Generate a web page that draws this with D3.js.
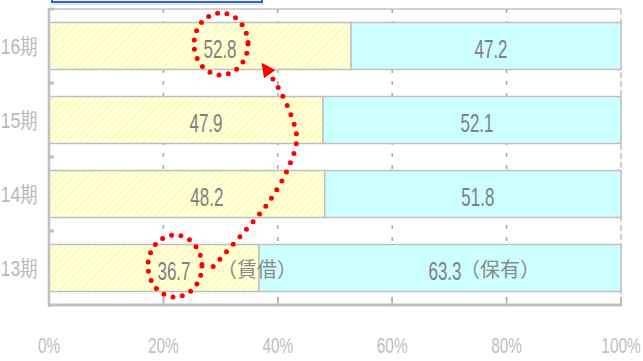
<html>
<body style="margin:0;background:#fff">
<svg width="643" height="361"></svg>
</body>
<style>
  .num { font-family: "Liberation Sans Narrow", "Liberation Sans", Arial, sans-serif; }
  .cjk { font-family: "Noto Sans CJK JP", sans-serif; }
</style>
<script src="https://d3js.org/d3.v7.min.js"></script>
<script>
// data
const categories = ["16期", "15期", "14期", "13期"];
const rentValues = [52.8, 47.9, 48.2, 36.7];   // 賃借
const ownValues  = [47.2, 52.1, 51.8, 63.3];   // 保有
const xTicks = [0, 20, 40, 60, 80, 100];
const seriesNames = ["賃借", "保有"];
// dotted arrow from 13期 label up to 16期 label: [percent, row] (row 0 = 16期 ... 3 = 13期)
const arrowPoints = [[28.7, 2.98], [33.9, 2.53], [38.5, 2.10], [42.1, 1.60], [43.3, 1.25], [42.3, 0.93], [40.0, 0.55], [38.3, 0.35]];

var svg = d3.select("svg");
var margin = {top: 9, right: 22, bottom: 56, left: 49},
    width = 643 - margin.left - margin.right,
    height = 361 - margin.top - margin.bottom;

var defs = svg.append("defs");
var pat = defs.append("pattern")
    .attr("id", "hatch")
    .attr("width", 5).attr("height", 5)
    .attr("patternUnits", "userSpaceOnUse")
    .attr("patternTransform", "rotate(45)");
pat.append("rect").attr("width", 5).attr("height", 5).attr("fill", "#ffffea");
pat.append("rect").attr("width", 2).attr("height", 5).attr("fill", "#ffffa8");

defs.append("marker")
    .attr("id", "head")
    .attr("viewBox", "0 0 10 10")
    .attr("refX", 2).attr("refY", 5)
    .attr("markerUnits", "userSpaceOnUse")
    .attr("markerWidth", 16).attr("markerHeight", 14)
    .attr("orient", "auto")
  .append("path")
    .attr("d", "M0,0L10,5L0,10z")
    .attr("fill", "#ff0000");

// legend box cut off at the top
svg.append("rect")
    .attr("x", 52).attr("y", -20).attr("width", 210).attr("height", 22)
    .attr("fill", "#fff").attr("stroke", "#2d63e6").attr("stroke-width", 2);
svg.append("line")
    .attr("x1", 52).attr("x2", 264).attr("y1", 4).attr("y2", 4)
    .attr("stroke", "#c8c8c8").attr("stroke-width", 1);

var g = svg.append("g")
    .attr("transform", "translate(" + margin.left + "," + margin.top + ")");

var x = d3.scaleLinear().domain([0, 100]).range([0, width]);
var y = d3.scaleBand()
    .domain(categories)
    .range([0, height])
    .paddingInner(0.365)
    .paddingOuter(0.1825);
var row = d3.scaleLinear()
    .domain([0, 3])
    .range([y(categories[0]) + y.bandwidth() / 2, y(categories[3]) + y.bandwidth() / 2]);

// squeezed text helper (the original text is narrow)
function narrowText(parent, px, py, str, size, sx, color, anchor, cls) {
  return parent.append("text")
    .attr("class", cls || "num")
    .attr("transform", "translate(" + px + "," + py + ") scale(" + sx + ",1)")
    .attr("text-anchor", anchor || "middle")
    .attr("font-size", size)
    .attr("fill", color)
    .text(str);
}

// top frame + right border
g.append("line")
    .attr("x1", 0).attr("x2", width).attr("y1", 0).attr("y2", 0)
    .attr("stroke", "#c4c4c4").attr("stroke-width", 1.5);
g.append("line")
    .attr("x1", width).attr("x2", width).attr("y1", 0).attr("y2", height)
    .attr("stroke", "#c4c4c4").attr("stroke-width", 1.5)
    .attr("stroke-dasharray", "6,3");

// dashed grid
g.selectAll(".grid")
  .data(xTicks.slice(1, -1))
  .enter().append("line")
    .attr("class", "grid")
    .attr("x1", d => x(d)).attr("x2", d => x(d))
    .attr("y1", 0).attr("y2", height)
    .attr("stroke", "#a8a8a8").attr("stroke-width", 1.5)
    .attr("stroke-dasharray", "4,8");

// bars
var bars = g.selectAll(".row")
  .data(categories)
  .enter().append("g")
    .attr("class", "row");

bars.append("rect")
    .attr("x", x(0))
    .attr("y", d => y(d))
    .attr("width", (d, i) => x(rentValues[i]) - x(0))
    .attr("height", y.bandwidth())
    .attr("fill", "url(#hatch)")
    .attr("stroke", "#c0c0c0").attr("stroke-width", 1.5);

bars.append("rect")
    .attr("x", (d, i) => x(rentValues[i]))
    .attr("y", d => y(d))
    .attr("width", (d, i) => x(rentValues[i] + ownValues[i]) - x(rentValues[i]))
    .attr("height", y.bandwidth())
    .attr("fill", "#ccffff")
    .attr("stroke", "#c0c0c0").attr("stroke-width", 1.5);

// axes
g.append("line")
    .attr("x1", 0).attr("x2", 0).attr("y1", -1).attr("y2", height + 2)
    .attr("stroke", "#c0c0c0").attr("stroke-width", 2.5);
g.append("line")
    .attr("x1", -1).attr("x2", width + 1).attr("y1", height).attr("y2", height)
    .attr("stroke", "#c0c0c0").attr("stroke-width", 3);
g.selectAll(".ytick")
  .data(d3.range(categories.length))
  .enter().append("line")
    .attr("x1", 0).attr("x2", 5)
    .attr("y1", d => y(categories[d]) - y.step() * y.paddingInner() / 2)
    .attr("y2", d => y(categories[d]) - y.step() * y.paddingInner() / 2)
    .attr("stroke", "#c0c0c0").attr("stroke-width", 3);
g.selectAll(".xtick")
  .data(xTicks.slice(1))
  .enter().append("line")
    .attr("x1", d => x(d)).attr("x2", d => x(d))
    .attr("y1", height - 8).attr("y2", height)
    .attr("stroke", "#b0b0b0").attr("stroke-width", 1.5);

// tick labels
xTicks.forEach(function (t) {
  narrowText(g, x(t), height + 48, t + "%", 22, 0.7, "#c0c0c0");
});
categories.forEach(function (c) {
  narrowText(g, -11, y(c) + y.bandwidth() / 2 + 8, c, 22, 0.8, "#b8b8b8", "end");
});

// value labels
var rentLabelX = [], last = categories.length - 1;
categories.forEach(function (c, i) {
  var cy = y(c) + y.bandwidth() / 2;
  var lx = x(rentValues[i] / 2) + 20;
  rentLabelX.push(lx);
  narrowText(g, lx, cy, rentValues[i].toFixed(1), 25, 0.68, "#808080").attr("dy", "0.46em");
  var rx = x(rentValues[i] + ownValues[i] / 2) + 5;
  narrowText(g, rx, cy, ownValues[i].toFixed(1), 25, 0.68, "#808080").attr("dy", "0.46em");
  if (i === last) {
    narrowText(g, lx + 43, cy, "（" + seriesNames[0] + "）", 20, 1, "#8a8a8a", "start", "cjk").attr("dy", "0.45em");
    narrowText(g, rx + 15, cy, "（" + seriesNames[1] + "）", 20, 1, "#8a8a8a", "start", "cjk").attr("dy", "0.45em");
  }
});

// red dotted annotations
[0, last].forEach(function (i) {
  g.append("ellipse")
    .attr("cx", rentLabelX[i] + 1)
    .attr("cy", row(i) - 2)
    .attr("rx", 27).attr("ry", 31)
    .attr("fill", "none")
    .attr("stroke", "#ff0000").attr("stroke-width", 5)
    .attr("stroke-linecap", "round")
    .attr("stroke-dasharray", "0,9.5");
});

g.append("path")
    .datum(arrowPoints)
    .attr("d", d3.line().x(d => x(d[0])).y(d => row(d[1])).curve(d3.curveCatmullRom))
    .attr("fill", "none")
    .attr("stroke", "#ff0000").attr("stroke-width", 5)
    .attr("stroke-linecap", "round")
    .attr("stroke-dasharray", "0,10")
    .attr("marker-end", "url(#head)");
</script>
</html>
